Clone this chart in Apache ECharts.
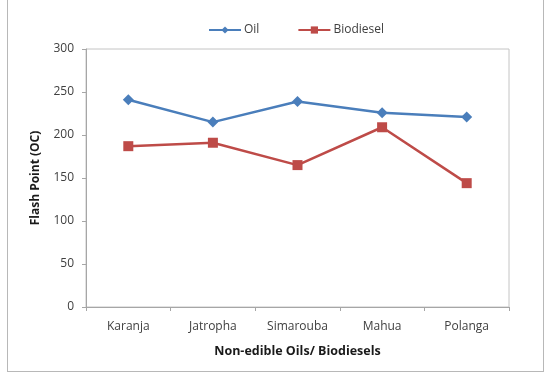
<!DOCTYPE html>
<html>
<head>
<meta charset="utf-8">
<script src="https://cdn.jsdelivr.net/npm/echarts@6/dist/echarts.min.js"></script>
<style>
html,body{margin:0;padding:0;background:#fff;}
#frame{position:absolute;left:7px;top:-2px;width:537px;height:374px;border:1px solid #b8b8b8;box-sizing:border-box;}
#chart{position:absolute;left:0;top:0;width:546px;height:373px;}
</style>
</head>
<body>
<div id="frame"></div>
<div id="chart"></div>
<script>
// Flash point of non-edible oils and their biodiesels
const categories = ['Karanja', 'Jatropha', 'Simarouba', 'Mahua', 'Polanga'];
const oilValues = [241, 215, 239, 226, 221];
const biodieselValues = [187, 191, 165, 209, 144];
const yTicks = [0, 50, 100, 150, 200, 250, 300];

const chart = echarts.init(document.getElementById('chart'));
const font = '"Open Sans", "Noto Sans", sans-serif';
chart.setOption({
  animation: false,
  textStyle: { fontFamily: font },
  legend: {
    top: 19,
    left: 203,
    itemGap: 38,
    itemWidth: 32,
    itemHeight: 9,
    textStyle: { color: '#404040', fontSize: 12, fontFamily: font, padding: [0, 0, 0, -2] },
    data: ['Oil', 'Biodiesel']
  },
  grid: { left: 86, right: 37, top: 49, bottom: 66, show: true, borderColor: '#c4c4c4', borderWidth: 1 },
  xAxis: {
    type: 'category',
    data: categories,
    boundaryGap: true,
    axisLine: { lineStyle: { color: '#a6a6a6' } },
    axisTick: { show: true, length: 4, alignWithLabel: false, lineStyle: { color: '#a6a6a6' } },
    axisLabel: { color: '#404040', fontSize: 12, margin: 14, fontFamily: font },
    name: 'Non-edible Oils/ Biodiesels',
    nameLocation: 'middle',
    nameGap: 38,
    nameTextStyle: { color: '#1a1a1a', fontSize: 12.5, fontWeight: 'bold', fontFamily: font }
  },
  yAxis: {
    type: 'value',
    min: yTicks[0],
    max: yTicks[yTicks.length - 1],
    interval: 50,
    splitLine: { show: false },
    axisLine: { show: true, lineStyle: { color: '#a6a6a6' } },
    axisTick: { show: true, length: 4, lineStyle: { color: '#a6a6a6' } },
    axisLabel: { color: '#404040', fontSize: 12, margin: 12, fontFamily: font },
    name: 'Flash Point (OC)',
    nameLocation: 'middle',
    nameGap: 44,
    nameRotate: 90,
    nameTextStyle: { color: '#1a1a1a', fontSize: 12, fontWeight: 'bold', fontFamily: font }
  },
  series: [
    {
      name: 'Oil',
      type: 'line',
      data: oilValues,
      symbol: 'diamond',
      symbolSize: 11,
      itemStyle: { color: '#4a7ebb' },
      lineStyle: { color: '#4a7ebb', width: 2.5 }
    },
    {
      name: 'Biodiesel',
      type: 'line',
      data: biodieselValues,
      symbol: 'rect',
      symbolSize: 10,
      itemStyle: { color: '#be4b48' },
      lineStyle: { color: '#be4b48', width: 2.5 }
    }
  ]
});
</script>
</body>
</html>
